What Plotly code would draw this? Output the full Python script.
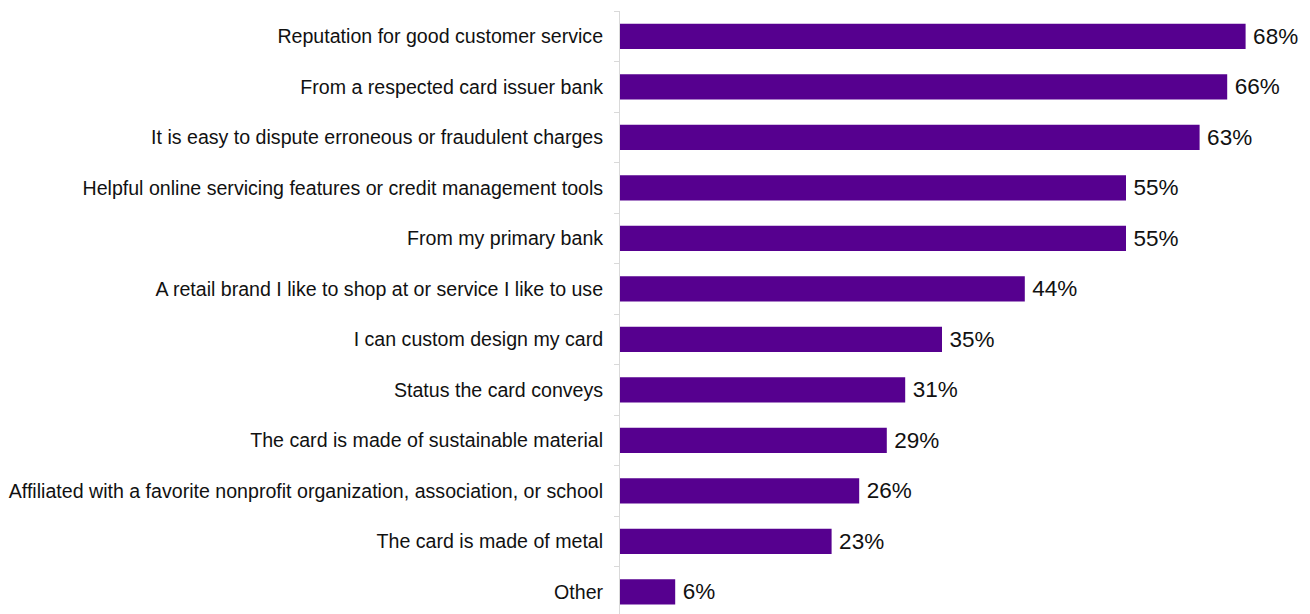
import plotly.graph_objects as go

categories = [
    "Reputation for good customer service",
    "From a respected card issuer bank",
    "It is easy to dispute erroneous or fraudulent charges",
    "Helpful online servicing features or credit management tools",
    "From my primary bank",
    "A retail brand I like to shop at or service I like to use",
    "I can custom design my card",
    "Status the card conveys",
    "The card is made of sustainable material",
    "Affiliated with a favorite nonprofit organization, association, or school",
    "The card is made of metal",
    "Other",
]
values = [68, 66, 63, 55, 55, 44, 35, 31, 29, 26, 23, 6]
# a thin space keeps the value labels a little off the bar ends
value_labels = [f"\u2009{v}%" for v in values]

fig = go.Figure(
    go.Bar(
        x=values,
        y=categories,
        orientation="h",
        marker=dict(color="#56008F", line=dict(width=0)),
        width=0.5,
        text=value_labels,
        textposition="outside",
        textfont=dict(family="Liberation Sans, Arial, sans-serif", size=22.5, color="#111111"),
        cliponaxis=False,
        hoverinfo="skip",
    )
)

fig.update_layout(
    width=1310,
    height=614,
    margin=dict(l=620, r=0, t=11, b=0),
    paper_bgcolor="white",
    plot_bgcolor="white",
    showlegend=False,
    font=dict(family="Liberation Sans, Arial, sans-serif", size=19.6, color="#111111"),
    xaxis=dict(
        range=[0, 75],
        visible=False,
        showgrid=False,
        zeroline=False,
        fixedrange=True,
    ),
    yaxis=dict(
        type="category",
        range=[11.44, -0.5],
        showline=True,
        linecolor="#D9D9D9",
        linewidth=1,
        ticks="outside",
        tickson="boundaries",
        ticklen=5,
        tickcolor="#D9D9D9",
        showgrid=False,
        zeroline=False,
        ticklabelstandoff=12,
        fixedrange=True,
    ),
)

fig.write_html("out.html")
